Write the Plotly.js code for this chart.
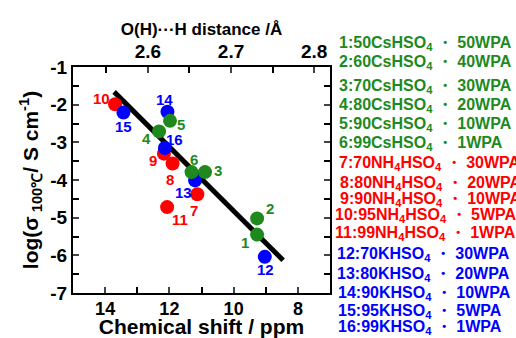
<!DOCTYPE html>
<html><head><meta charset="utf-8">
<script src="https://cdn.plot.ly/plotly-3.0.1.min.js"></script>
<style>body{margin:0;padding:0;background:#fff}#c{width:516px;height:338px}</style>
</head><body><div id="c"></div>
<script>
// Data
const ids    = [1,2,3,4,5,6,7,8,9,10,11,12,13,14,15,16];
const shift  = [9.27,9.27,10.89,12.32,11.98,11.31,11.13,11.90,12.17,13.69,12.07,9.03,11.20,12.06,13.43,12.14];
const logSig = [-5.45,-5.02,-3.79,-2.71,-2.43,-3.79,-4.38,-3.56,-3.30,-1.99,-4.72,-6.04,-4.01,-2.19,-2.21,-3.15];
const group  = ['Cs','Cs','Cs','Cs','Cs','Cs','NH4','NH4','NH4','NH4','NH4','K','K','K','K','K'];
const labels = [
 '1:50CsHSO<sub>4</sub> ・ 50WPA','2:60CsHSO<sub>4</sub> ・ 40WPA','3:70CsHSO<sub>4</sub> ・ 30WPA',
 '4:80CsHSO<sub>4</sub> ・ 20WPA','5:90CsHSO<sub>4</sub> ・ 10WPA','6:99CsHSO<sub>4</sub> ・ 1WPA',
 '7:70NH<sub>4</sub>HSO<sub>4</sub> ・ 30WPA','8:80NH<sub>4</sub>HSO<sub>4</sub> ・ 20WPA','9:90NH<sub>4</sub>HSO<sub>4</sub> ・ 10WPA',
 '10:95NH<sub>4</sub>HSO<sub>4</sub> ・ 5WPA','11:99NH<sub>4</sub>HSO<sub>4</sub> ・ 1WPA',
 '12:70KHSO<sub>4</sub> ・ 30WPA','13:80KHSO<sub>4</sub> ・ 20WPA','14:90KHSO<sub>4</sub> ・ 10WPA',
 '15:95KHSO<sub>4</sub> ・ 5WPA','16:99KHSO<sub>4</sub> ・ 1WPA'];
const fitX = [13.72, 8.46];
const fitY = [-1.66, -6.13];
const xTicks = [14,12,10,8];
const yTicks = [-7,-6,-5,-4,-3,-2,-1];
const yTickText = ['-7','-6','-5','-4','-3','-2','-1'];
const topTicks = [2.6,2.7,2.8];
const topTickText = ['2.6','2.7','2.8'];

// styling
const colors = {Cs:'#1e8a1e', NH4:'#ff0000', K:'#0000ff'};
const drawOrder = ['NH4','K','Cs'];
// label offsets in px (dx right, dy down)
const offs = {1:[-12,8],2:[13,-10],3:[13,-2],4:[-13,7],5:[11,4],6:[2,-13],7:[-3,16],8:[-3,16],
  9:[-11,7],10:[-14,-6],11:[13,12],12:[1,13],13:[-12,12],14:[-3,-12],15:[0,14],16:[10,-8]};
const legY  = [44,63,86,105,124,143,163,183,199,215,233,254,274,293,311,327];
const legX  = [337,337,337,337,337,337,337,338,338,333,333,335,335,336,336,336];

const F = 'Liberation Sans, Arial, sans-serif';
const traces = [{
  x: fitX, y: fitY, mode:'lines', line:{color:'#000', width:5}, hoverinfo:'skip', showlegend:false
}];
drawOrder.forEach(g=>{
  const idx = ids.map((_,i)=>i).filter(i=>group[i]===g);
  traces.push({x: idx.map(i=>shift[i]), y: idx.map(i=>logSig[i]), mode:'markers',
    marker:{color:colors[g], size:14, line:{width:0}}, showlegend:false});
});
// invisible trace for top axis
traces.push({x: topTicks, y: [-1,-1,-1], xaxis:'x2', yaxis:'y', mode:'markers', marker:{opacity:0}, hoverinfo:'skip', showlegend:false});

const ann = [];
ids.forEach((id,i)=>{
  ann.push({x: shift[i], y: logSig[i], xref:'x', yref:'y', text: String(id), showarrow:false,
    xshift: offs[id][0], yshift: -offs[id][1],
    font:{family:F, size:15, weight:'bold', color: colors[group[i]]}});
  ann.push({x: legX[i], y: legY[i], xref:'paper', yref:'paper', text: labels[i], showarrow:false,
    xanchor:'left', yanchor:'middle',
    font:{family:F, size:16, weight:'bold', color: colors[group[i]]}});
});
const W=516,H=338,ml=73,mr=186,mt=67,mb=45;
const pw=W-ml-mr, ph=H-mt-mb;
ann.forEach(a=>{ if(a.xref==='paper'){ a.x=(a.x-ml)/pw; a.y=1-(a.y-mt)/ph; }});

const layout = {
  width:W, height:H, margin:{l:ml,r:mr,t:mt,b:mb}, paper_bgcolor:'#fff', plot_bgcolor:'#fff',
  showlegend:false, font:{family:F, color:'#000'},
  xaxis:{range:[15,7], tickvals:xTicks, ticks:'inside', ticklen:6, tickwidth:2, showline:true, linewidth:2,
    linecolor:'#000', mirror:true, showgrid:false, zeroline:false, ticklabelstandoff:-2,
    minor:{dtick:1, tick0:0, ticks:'inside', ticklen:6, tickwidth:2, tickcolor:'#000', showgrid:false},
    tickfont:{family:F, size:18, weight:'bold'},
    title:{text:'Chemical shift / ppm', font:{family:F, size:21, weight:'bold'}, standoff:6}},
  xaxis2:{overlaying:'x', side:'top', anchor:'y', range:[2.51,2.819], tickvals:topTicks, ticktext:topTickText,
    ticks:'inside', ticklen:6, tickwidth:2, showline:false, showgrid:false, zeroline:false, ticklabelstandoff:4,
    minor:{dtick:0.05, tick0:2.5, ticks:'inside', ticklen:6, tickwidth:2, tickcolor:'#000', showgrid:false},
    tickfont:{family:F, size:19, weight:'bold'},
    title:{text:'O(H)···H distance /Å', font:{family:F, size:17, weight:'bold'}, standoff:1}},
  yaxis:{range:[-7,-1], tickvals:yTicks, ticktext:yTickText, ticks:'inside', ticklen:6, tickwidth:2,
    showline:true, linewidth:2, linecolor:'#000', mirror:'ticks', showgrid:false, zeroline:false,
    minor:{dtick:0.5, tick0:0, ticks:'inside', ticklen:6, tickwidth:2, tickcolor:'#000', showgrid:false},
    tickfont:{family:F, size:19, weight:'bold'},
    title:{text:'log(σ<sub> 100℃</sub>/ S cm<sup>-1</sup>)', font:{family:F, size:21, weight:'bold'}, standoff:6}},
  annotations: ann
};
Plotly.newPlot('c', traces, layout, {displayModeBar:false, staticPlot:true});
</script></body></html>
